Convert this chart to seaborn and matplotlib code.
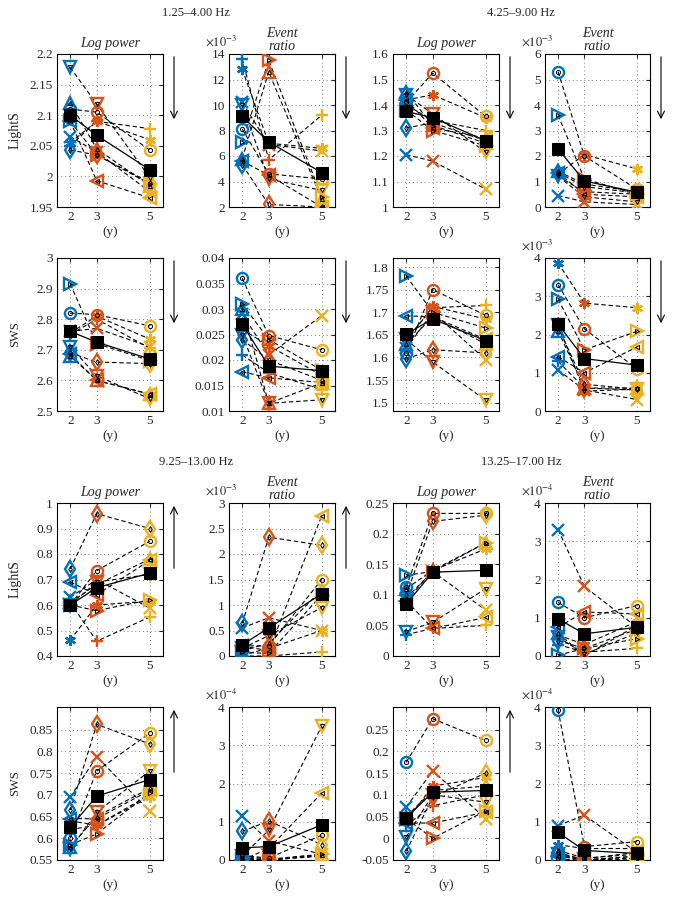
import numpy as np
import pandas as pd
import matplotlib
matplotlib.use('Agg')
import matplotlib.pyplot as plt
import seaborn as sns

# ages (years) and one marker per child
ages = [2, 3, 5]
subjects = ['o', '+', 'ast', 'x', 'd', 'v', '^', '>', '<']
bands = ['1.25–4.00 Hz', '4.25–9.00 Hz', '9.25–13.00 Hz', '13.25–17.00 Hz']
states = ['LightS', 'SWS']

# each list: one row per subject (order as `subjects`), values at ages 2, 3, 5
light_pow_b1 = [[2.11, 2.105, 2.043], [2.05, 2.09, 2.078], [2.055, 2.09, 2.06],
                [2.065, 2.04, 1.975], [2.043, 2.035, 1.99], [2.178, 2.118, 1.998],
                [2.12, 2.045, 1.985], [2.09, 2.035, 1.988], [2.09, 1.993, 1.965]]
light_pow_b1_mean = [2.100, 2.067, 2.011]
light_evt_b1 = [[8.1, 4.6, 4.2], [13.6, 5.7, 9.2], [12.8, 7.0, 6.6],
                [10.2, 6.9, 6.4], [5.3, 2.2, 2.0], [10.0, 4.2, 3.3],
                [5.8, 12.6, 2.6], [7.1, 13.5, 2.8], [5.6, 4.5, 2.0]]
light_evt_b1_mean = [9.1, 7.1, 4.7]
light_pow_b2 = [[1.41, 1.525, 1.355], [1.40, 1.34, 1.30], [1.42, 1.44, 1.35],
                [1.205, 1.18, 1.07], [1.31, 1.33, 1.26], [1.44, 1.365, 1.215],
                [1.45, 1.32, 1.25], [1.38, 1.30, 1.24], [1.42, 1.31, 1.27]]
light_pow_b2_mean = [1.375, 1.35, 1.26]
light_evt_b2 = [[5.3, 2.0, 0.7], [1.2, 0.6, 0.5], [1.3, 2.05, 1.5],
                [0.45, 0.2, 0.1], [1.35, 0.8, 0.55], [1.2, 0.4, 0.2],
                [1.4, 0.9, 0.6], [3.6, 1.1, 0.5], [1.35, 0.5, 0.4]]
light_evt_b2_mean = [2.27, 1.02, 0.58]

sws_pow_b1 = [[2.82, 2.815, 2.778], [2.75, 2.80, 2.705], [2.755, 2.81, 2.735],
              [2.76, 2.77, 2.71], [2.69, 2.66, 2.655], [2.71, 2.615, 2.54],
              [2.68, 2.60, 2.555], [2.915, 2.72, 2.665], [2.685, 2.60, 2.555]]
sws_pow_b1_mean = [2.76, 2.725, 2.67]
sws_evt_b1 = [[0.036, 0.0248, 0.022], [0.021, 0.0175, 0.0142], [0.026, 0.0228, 0.017],
              [0.029, 0.021, 0.0287], [0.024, 0.020, 0.016], [0.025, 0.0115, 0.0122],
              [0.030, 0.0115, 0.0155], [0.031, 0.024, 0.018], [0.0177, 0.0165, 0.0156]]
sws_evt_b1_mean = [0.027, 0.0188, 0.0179]
sws_pow_b2 = [[1.61, 1.75, 1.693], [1.64, 1.71, 1.715], [1.635, 1.713, 1.685],
              [1.62, 1.70, 1.595], [1.597, 1.617, 1.61], [1.64, 1.59, 1.505],
              [1.63, 1.69, 1.63], [1.78, 1.70, 1.665], [1.692, 1.69, 1.64]]
sws_pow_b2_mean = [1.652, 1.685, 1.637]
sws_evt_b2 = [[3.3, 2.15, 1.1], [1.3, 0.6, 0.55], [3.87, 2.82, 2.7],
              [1.07, 0.55, 0.3], [2.2, 0.7, 0.57], [2.25, 0.52, 0.57],
              [2.1, 0.6, 0.6], [2.92, 1.6, 2.08], [1.42, 1.0, 1.67]]
sws_evt_b2_mean = [2.27, 1.37, 1.2]

light_pow_b3 = [[0.60, 0.735, 0.85], [0.61, 0.458, 0.553], [0.462, 0.60, 0.615],
                [0.63, 0.70, 0.588], [0.742, 0.958, 0.90], [0.60, 0.69, 0.72],
                [0.61, 0.68, 0.78], [0.60, 0.578, 0.62], [0.69, 0.64, 0.775]]
light_pow_b3_mean = [0.60, 0.668, 0.725]
light_evt_b3 = [[0.2, 0.2, 1.5], [0.0, 0.0, 0.08], [0.02, 0.15, 0.5],
                [0.55, 0.75, 0.5], [0.64, 2.33, 2.17], [0.15, 0.4, 0.95],
                [0.1, 0.25, 1.3], [0.07, 0.05, 1.2], [0.2, 0.1, 2.75]]
light_evt_b3_mean = [0.22, 0.55, 1.22]
light_pow_b4 = [[0.113, 0.233, 0.233], [0.035, 0.045, 0.05], [0.09, 0.14, 0.175],
                [0.095, 0.138, 0.075], [0.10, 0.22, 0.23], [0.04, 0.055, 0.11],
                [0.11, 0.14, 0.185], [0.132, 0.138, 0.185], [0.09, 0.045, 0.063]]
light_pow_b4_mean = [0.085, 0.137, 0.14]
light_evt_b4 = [[1.4, 1.0, 1.32], [0.3, 0.1, 0.2], [0.55, 0.3, 0.9],
                [3.3, 1.82, 0.75], [0.4, 0.2, 0.7], [0.5, 0.05, 0.6],
                [0.6, 0.0, 0.8], [0.02, 0.2, 0.45], [0.75, 1.15, 1.1]]
light_evt_b4_mean = [0.97, 0.58, 0.75]

sws_pow_b3 = [[0.60, 0.755, 0.842], [0.62, 0.63, 0.70], [0.64, 0.63, 0.695],
              [0.695, 0.788, 0.662], [0.665, 0.862, 0.817], [0.575, 0.66, 0.755],
              [0.58, 0.65, 0.715], [0.585, 0.61, 0.705], [0.645, 0.645, 0.71]]
sws_pow_b3_mean = [0.625, 0.697, 0.735]
sws_evt_b3 = [[0.12, 0.05, 0.65], [0.05, 0.0, 0.1], [0.1, 0.02, 0.15],
              [1.15, 0.5, 0.15], [0.75, 1.02, 0.4], [0.1, 0.78, 3.5],
              [0.05, 0.0, 0.12], [0.02, 0.0, 0.15], [0.0, 0.3, 1.75]]
sws_evt_b3_mean = [0.32, 0.35, 0.92]
sws_pow_b4 = [[0.175, 0.275, 0.225], [0.03, 0.075, 0.10], [0.04, 0.12, 0.14],
              [0.072, 0.155, 0.045], [-0.03, 0.095, 0.15], [0.003, 0.10, 0.083],
              [0.05, 0.11, 0.12], [0.045, 0.0, 0.063], [0.035, 0.035, 0.06]]
sws_pow_b4_mean = [0.047, 0.106, 0.11]
sws_evt_b4 = [[3.92, 0.35, 0.48], [0.1, 0.0, 0.1], [0.4, 0.3, 0.3],
              [0.9, 1.17, 0.2], [0.2, 0.0, 0.05], [0.15, 0.02, 0.0],
              [0.25, 0.05, 0.15], [0.02, 0.0, 0.1], [0.1, 0.03, 0.2]]
sws_evt_b4_mean = [0.72, 0.25, 0.17]

# ---- style ----
sns.set_style('white')
plt.rcParams['font.family'] = ['Liberation Serif', 'DejaVu Serif']
plt.rcParams['mathtext.fontset'] = 'stix'
plt.rcParams['font.size'] = 9.5

age_colors = {2: '#0072BD', 3: '#D95319', 5: '#EDB120'}
mk = {'o': 'o', '+': '+', 'ast': (6, 2, 0), 'x': 'x', 'd': 'd',
      'v': 'v', '^': '^', '>': '>', '<': '<'}
inner = ['o', 'd', 'v', '^', '>', '<']

W, H = 676, 900
fig = plt.figure(figsize=(W / 100, H / 100), dpi=100)

col_left = [57, 229, 393, 545]
col_w = [106, 106, 106, 105]
row_top = [54, 258, 503, 707]
ax_h = 153

# (row, col): data, mean, exponent label, ylim, yticks, arrow
panels = {
    (0, 0): (light_pow_b1, light_pow_b1_mean, None, (1.95, 2.2), np.arange(1.95, 2.21, 0.05), 'down'),
    (0, 1): (light_evt_b1, light_evt_b1_mean, -3, (2, 14), np.arange(2, 15, 2), 'down'),
    (0, 2): (light_pow_b2, light_pow_b2_mean, None, (1, 1.6), np.arange(1, 1.61, 0.1), 'down'),
    (0, 3): (light_evt_b2, light_evt_b2_mean, -3, (0, 6), np.arange(0, 7, 1), 'down'),
    (1, 0): (sws_pow_b1, sws_pow_b1_mean, None, (2.5, 3), np.arange(2.5, 3.01, 0.1), 'down'),
    (1, 1): (sws_evt_b1, sws_evt_b1_mean, None, (0.01, 0.04), np.arange(0.01, 0.0401, 0.005), 'down'),
    (1, 2): (sws_pow_b2, sws_pow_b2_mean, None, (1.4815, 1.82), np.arange(1.5, 1.81, 0.05), None),
    (1, 3): (sws_evt_b2, sws_evt_b2_mean, -3, (0, 4), np.arange(0, 5, 1), 'down'),
    (2, 0): (light_pow_b3, light_pow_b3_mean, None, (0.4, 1), np.arange(0.4, 1.01, 0.1), 'up'),
    (2, 1): (light_evt_b3, light_evt_b3_mean, -3, (0, 3), np.arange(0, 3.1, 0.5), 'up'),
    (2, 2): (light_pow_b4, light_pow_b4_mean, None, (0, 0.25), np.arange(0, 0.251, 0.05), None),
    (2, 3): (light_evt_b4, light_evt_b4_mean, -4, (0, 4), np.arange(0, 5, 1), None),
    (3, 0): (sws_pow_b3, sws_pow_b3_mean, None, (0.55, 0.902), np.arange(0.55, 0.86, 0.05), 'up'),
    (3, 1): (sws_evt_b3, sws_evt_b3_mean, -4, (0, 4), np.arange(0, 5, 1), None),
    (3, 2): (sws_pow_b4, sws_pow_b4_mean, None, (-0.05, 0.302), np.arange(-0.05, 0.26, 0.05), 'up'),
    (3, 3): (sws_evt_b4, sws_evt_b4_mean, -4, (0, 4), np.arange(0, 5, 1), None),
}


def fmt(v):
    s = f'{v:.3f}'.rstrip('0').rstrip('.')
    return '0' if s in ('-0', '') else s


for (r, c), (vals, mean, expo, ylim, yticks, arrow) in panels.items():
    l, w, t = col_left[c], col_w[c], row_top[r]
    ax = fig.add_axes([l / W, 1 - (t + ax_h) / H, w / W, ax_h / H])

    df = pd.DataFrame(vals, columns=ages)
    df['subject'] = subjects
    long = df.melt(id_vars='subject', var_name='age', value_name='value')
    long['age'] = long['age'].astype(float)

    sns.lineplot(data=long, x='age', y='value', units='subject', estimator=None,
                 color='k', lw=0.8, linestyle=(0, (4, 2.5)), ax=ax, zorder=2)

    for s, row in zip(subjects, vals):
        for a, v in zip(ages, row):
            ax.plot(a, v, marker=mk[s], ms=8, mec=age_colors[a], mfc='none',
                    mew=1.7, ls='none', zorder=3)
            if s in inner:
                ax.plot(a, v, marker=mk[s], ms=3, mec='k', mfc='none',
                        mew=0.7, ls='none', zorder=4)

    sns.lineplot(x=ages, y=mean, color='k', lw=0.9, marker='s', ms=8,
                 mec='k', mfc='k', ax=ax, zorder=5)

    ax.set_xlim(1.5, 5.5)
    ax.set_ylim(*ylim)
    ax.set_xticks(ages)
    ax.set_xticklabels(['2', '3', '5'])
    ax.set_yticks(yticks)
    ax.set_yticklabels([fmt(v) for v in yticks])
    ax.grid(True, linestyle=(0, (1, 3)), color='0.5', lw=0.7)
    ax.tick_params(direction='in', length=3, labelsize=9.5, pad=3,
                   top=True, right=True)
    for sp in ax.spines.values():
        sp.set_color('k')
        sp.set_linewidth(0.8)
    ax.set_xlabel('(y)', fontsize=9.5, labelpad=2)
    ax.set_ylabel('')

    if r in (0, 2):
        if c in (0, 2):
            ax.set_title('Log power', fontstyle='italic', fontsize=10, pad=5)
        else:
            ax.set_title('Event\nratio', fontstyle='italic', fontsize=10,
                         pad=3, linespacing=0.95)
    if expo is not None:
        ax.text(-0.07, 1.035, r'$\times10^{%d}$' % expo, transform=ax.transAxes,
                ha='center', va='bottom', fontsize=9)

    if arrow is not None:
        ax_x = (l + w + 11) / W
        y_top = 1 - t / H
        y_bot = 1 - (t + 68) / H
        if arrow == 'down':
            start, end = y_top, y_bot
        else:
            start, end = y_bot, y_top
        fig.add_artist(matplotlib.patches.FancyArrowPatch(
            (ax_x, start), (ax_x, end), transform=fig.transFigure,
            arrowstyle='->,head_width=2.5,head_length=5', lw=0.8, color='k',
            mutation_scale=1))

# band titles and state labels
for i, band in enumerate(bands):
    x = 196 if i % 2 == 0 else 521
    y = 13 if i < 2 else 462
    fig.text(x / W, 1 - y / H, band, ha='center', va='center', fontsize=9)

for r, lab in enumerate(['LightS', 'SWS', 'LightS', 'SWS']):
    fig.text(15 / W, 1 - (row_top[r] + ax_h / 2) / H, lab, rotation=90,
             ha='center', va='center', fontsize=10 if lab == 'LightS' else 9)

fig.savefig('out.png', dpi=100)
